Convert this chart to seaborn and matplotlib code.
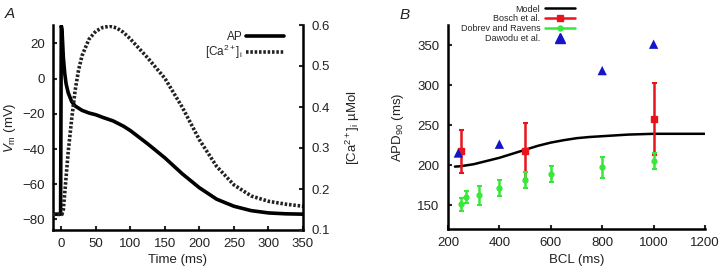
import numpy as np
import pandas as pd
import matplotlib
matplotlib.use('Agg')
import matplotlib.pyplot as plt
from matplotlib.lines import Line2D
import seaborn as sns

# panel A: action potential and calcium transient
t_ap = [-12, -1, 0, 1, 2, 3, 5, 7, 10, 15, 20, 30, 40, 50, 60, 75, 90, 100, 125, 150,
        175, 200, 225, 250, 275, 300, 325, 350]
v_ap = [-77, -77, 30, 28, 20, 12, 3, -3, -8, -13, -15.5, -18, -19.5, -20.5, -22, -24, -27,
        -29.5, -37, -45, -54, -62, -68.5, -72.5, -75, -76.3, -76.8, -77]
t_ca = [-12, 1, 3, 5, 7, 10, 15, 20, 25, 30, 40, 50, 60, 70, 80, 90, 100, 125, 150, 175,
        200, 225, 250, 275, 300, 325, 350]
ca = [0.138, 0.138, 0.15, 0.19, 0.23, 0.29, 0.37, 0.44, 0.49, 0.525, 0.565, 0.585, 0.594,
      0.597, 0.593, 0.582, 0.566, 0.52, 0.47, 0.40, 0.32, 0.255, 0.21, 0.183, 0.17, 0.163,
      0.158]

# panel B: APD90 restitution
bcl_model = [227, 250, 300, 350, 400, 450, 500, 550, 600, 650, 700, 750, 800, 900, 1000, 1100, 1200]
apd_model = [198, 198.5, 201, 205, 209, 214, 219, 224, 228, 231, 233.5, 235, 236, 238, 239, 239, 239]
bcl_bosch = [250, 500, 1000]
apd_bosch = [217, 218, 258]
err_bosch = [27, 35, 45]
bcl_dobrev = [250, 270, 320, 400, 500, 600, 800, 1000]
apd_dobrev = [151, 160, 162, 171, 181, 189, 197, 205]
err_dobrev = [8, 7, 12, 10, 10, 10, 13, 10]
bcl_dawodu = [240, 400, 800, 1000]
apd_dawodu = [215, 226, 318, 351]

sns.set_theme(style='ticks')
plt.rcParams['font.family'] = ['Liberation Sans', 'DejaVu Sans']
plt.rcParams['mathtext.fontset'] = 'custom'
plt.rcParams['mathtext.rm'] = 'Liberation Sans'
plt.rcParams['mathtext.it'] = 'Liberation Sans:italic'
tc = '#222222'

fig = plt.figure(figsize=(7.2, 2.67), dpi=100)
axA = fig.add_axes([53/720, 37/267, 250/720, 205/267])
axB = fig.add_axes([448/720, 38/267, 257/720, 204/267])


def style(ax, right=False):
    for s in ['top', 'right']:
        ax.spines[s].set_visible(False)
    for s in ['left', 'bottom']:
        ax.spines[s].set_linewidth(1.8)
        ax.spines[s].set_color('black')
    ax.tick_params(direction='in', length=3, width=1.5, labelsize=9.5, labelcolor=tc, pad=6)


# ---- panel A
sns.lineplot(x=t_ap, y=v_ap, ax=axA, color='black', lw=2.6, sort=False)
axA.set_xlim(-12, 350)
axA.set_ylim(-86, 30.5)
axA.set_xticks(range(0, 351, 50))
axA.set_yticks(range(-80, 21, 20))
style(axA)
axA.set_xlabel('Time (ms)', fontsize=9.5, color=tc, labelpad=3)
axA.set_ylabel('$V_\\mathrm{m}$ (mV)', fontsize=9.5, color=tc, labelpad=3)

ax2 = axA.twinx()
sns.lineplot(x=t_ca, y=ca, ax=ax2, color='#222222', lw=2.6, sort=False, linestyle=(0, (0.7, 0.5)))
ax2.set_ylim(0.1, 0.6)
ax2.set_yticks([0.1, 0.2, 0.3, 0.4, 0.5, 0.6])
ax2.spines['top'].set_visible(False)
ax2.spines['left'].set_visible(False)
ax2.spines['bottom'].set_visible(False)
ax2.spines['right'].set_linewidth(1.8)
ax2.spines['right'].set_color('black')
ax2.tick_params(direction='in', length=3, width=1.5, labelsize=9.5, labelcolor=tc, pad=6)
ax2.set_ylabel('[Ca$^{2+}$]$_\\mathrm{i}$ µMol', fontsize=9.5, color=tc, labelpad=10)

hA = [Line2D([], [], color='black', lw=2.6),
      Line2D([], [], color='#222222', lw=2.6, linestyle=(0, (0.7, 0.5)))]
axA.legend(hA, ['AP', '[Ca$^{2+}$]$_\\mathrm{i}$'], loc='upper right',
           bbox_to_anchor=(290/720, 1 - 25/267), bbox_transform=fig.transFigure,
           frameon=False, markerfirst=False, fontsize=8.5, handlelength=3.2,
           handletextpad=0.3, labelspacing=0.0, borderpad=0)

# ---- panel B
sns.lineplot(x=bcl_model, y=apd_model, ax=axB, color='black', lw=1.8, sort=False)
axB.errorbar(bcl_bosch, apd_bosch, yerr=err_bosch, color='#e8141c', marker='s', ms=4.5,
             lw=0, elinewidth=1.8, capsize=1.8, capthick=1.5, zorder=3)
axB.errorbar(bcl_dobrev, apd_dobrev, yerr=err_dobrev, color='#38e838', marker='o', ms=3.5,
             lw=0, elinewidth=1.8, capsize=1.8, capthick=1.5, zorder=3)
sns.scatterplot(x=bcl_dawodu, y=apd_dawodu, ax=axB, color='#1414c8', marker='^', s=45,
                edgecolor='none', zorder=4)
axB.set_xlim(200, 1200)
axB.set_ylim(120, 375)
axB.set_xticks(range(200, 1201, 200))
axB.set_yticks(range(150, 351, 50))
style(axB)
axB.set_xlabel('BCL (ms)', fontsize=9.5, color=tc, labelpad=3)
axB.set_ylabel('APD$_{90}$ (ms)', fontsize=9.5, color=tc, labelpad=8)

hB = [Line2D([], [], color='black', lw=1.8),
      Line2D([], [], color='#e8141c', lw=1.8, marker='s', ms=4.5),
      Line2D([], [], color='#38e838', lw=1.8, marker='o', ms=3.5),
      Line2D([], [], color='#1414c8', lw=0, marker='^', ms=6.5)]
fig.legend(hB, ['Model', 'Bosch et al.', 'Dobrev and Ravens', 'Dawodu et al.'],
           loc='upper right', bbox_to_anchor=(580/720, 1.0), frameon=False,
           markerfirst=False, fontsize=6.5, handlelength=3.4, handletextpad=0.5,
           labelspacing=0.08, borderpad=0, numpoints=1)

fig.text(5/720, 1 - 14/267, 'A', fontsize=11, style='italic', va='center', color=tc)
fig.text(400/720, 1 - 15/267, 'B', fontsize=11, style='italic', va='center', color=tc)

fig.savefig('out.png', dpi=100)
